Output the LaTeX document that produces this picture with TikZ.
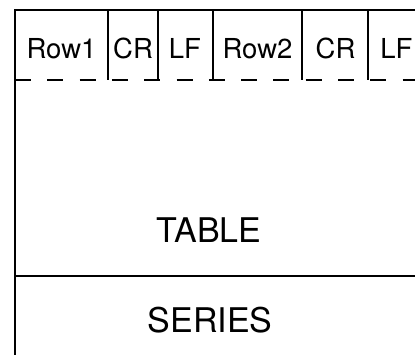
\documentclass[tikz,border=0pt]{standalone}
\usepackage{fontspec}
\setmainfont{TeX Gyre Heros}
\begin{document}
\begin{tikzpicture}[x=1pt,y=-1pt,
  wall/.style={line width=2.4pt,line cap=rect},
  sep/.style={line width=2.4pt},
  dashrule/.style={line width=2.4pt,dash pattern=on 16pt off 16.3pt},
  small/.style={font=\fontsize{27.5}{30}\selectfont,inner sep=0pt,anchor=base},
  big/.style={font=\fontsize{34}{38}\selectfont,inner sep=0pt,anchor=base}]
\useasboundingbox (0,0) rectangle (415,354);
% outer walls
\draw[wall] (415,10) -- (15,10) -- (15,354);
% separators
\foreach \xx in {108,158,213,302,368}
  \draw[sep] (\xx,10) -- (\xx,80);
% dashed line
\draw[dashrule] (15,80) -- (415,80);
% solid line above SERIES
\draw[sep] (15,276) -- (415,276);
% labels
\node[small] (r1) at (61.5,58) {Row1};
\node[small] (cr1) at (133,58) {CR};
\node[small] (lf1) at (185,58) {LF};
\node[small] (r2) at (257.5,58) {Row2};
\node[small] (cr2) at (335.5,58) {CR};
\node[small] (lf2) at (396.5,58) {LF};
\node[big] (table) at (209,242.5) {TABLE};
\node[big] (series) at (210,332) {SERIES};
\end{tikzpicture}
\end{document}
